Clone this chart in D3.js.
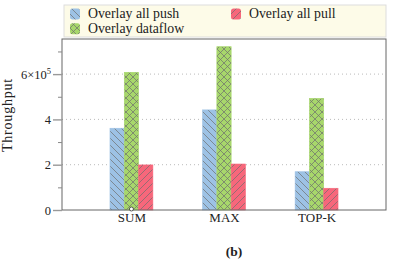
<!DOCTYPE html>
<html><head><meta charset="utf-8">
<script src="https://cdn.jsdelivr.net/npm/d3@7"></script>
<style>body{margin:0;background:#fff}svg{display:block}</style>
</head><body>
<script>
const categories = ["SUM", "MAX", "TOP-K"];
const seriesNames = ["Overlay all push", "Overlay dataflow", "Overlay all pull"];
const pushVals = [361000, 442000, 169000];
const dataflowVals = [608000, 721000, 493000];
const pullVals = [199000, 203000, 96000];
const majorTicks = [0, 200000, 400000, 600000];
const minorTicks = [100000, 300000, 500000, 700000];
const tickLabels = ["0", "2", "4", "6×10"];

const W = 402, H = 267;
const M = {left: 62, right: 386, top: 39, bottom: 210};
const FONT = '"Liberation Serif", "Times New Roman", serif';
const svg = d3.select("body").append("svg").attr("width", W).attr("height", H);
const defs = svg.append("defs");

const colors = ["#9dc2e5", "#a7d76b", "#f7677b"];
const kinds = ["nw", "cross", "ne"];
function makePattern(id, color, kind) {
  const s = 7;
  const p = defs.append("pattern").attr("id", id).attr("patternUnits", "userSpaceOnUse")
    .attr("width", s).attr("height", s);
  p.append("rect").attr("width", s).attr("height", s).attr("fill", color);
  const nw = `M0,0L${s},${s}M-1,${s-1}L1,${s+1}M${s-1},-1L${s+1},1`;
  const ne = `M0,${s}L${s},0M-1,1L1,-1M${s-1},${s+1}L${s+1},${s-1}`;
  const d = kind === "nw" ? nw : kind === "ne" ? ne : nw + ne;
  p.append("path").attr("d", d).attr("stroke", "#6f6f6f").attr("stroke-width", 0.7).attr("fill", "none");
}
colors.forEach((c, i) => makePattern("pat" + i, c, kinds[i]));

const x = d3.scalePoint().domain(categories).range([M.left, M.right]).padding(0.75);
const y = d3.scaleLinear().domain([0, 755000]).range([M.bottom, M.top]);
const bw = 14.3;

// grid
svg.append("g").selectAll("line").data(majorTicks.slice(1)).join("line")
  .attr("x1", M.left).attr("x2", M.right).attr("y1", d => y(d)).attr("y2", d => y(d))
  .attr("stroke", "#aaa").attr("stroke-width", 0.8).attr("stroke-dasharray", "1,3");

const series = [pushVals, dataflowVals, pullVals];
series.forEach((vals, si) => {
  svg.append("g").selectAll("rect").data(vals).join("rect")
    .attr("x", (d, i) => x(categories[i]) + (si - 1.5) * bw)
    .attr("y", d => y(d)).attr("width", bw).attr("height", d => y(0) - y(d))
    .attr("fill", `url(#pat${si})`).attr("stroke", colors[si]).attr("stroke-width", 0.6);
});

// frame
svg.append("rect").attr("x", M.left).attr("y", M.top).attr("width", M.right - M.left)
  .attr("height", M.bottom - M.top).attr("fill", "none").attr("stroke", "#666").attr("stroke-width", 1);

// y axis ticks
const yAxis = d3.axisLeft(y).tickValues(majorTicks).tickSize(9).tickFormat((d, i) => tickLabels[i]);
const ga = svg.append("g").attr("transform", `translate(${M.left},0)`).call(yAxis);
ga.select(".domain").remove();
ga.selectAll(".tick line").attr("stroke", "#999").attr("stroke-width", 1.4);
ga.selectAll(".tick text").attr("font-size", 12.5).attr("x", -11);
ga.selectAll(".tick text").filter((d, i) => i === 3).append("tspan").attr("dy", -5).attr("font-size", 8.5).text("5");
const gm = svg.append("g").attr("transform", `translate(${M.left},0)`)
  .call(d3.axisLeft(y).tickValues(minorTicks).tickSize(4).tickFormat(""));
gm.select(".domain").remove();
gm.selectAll(".tick line").attr("stroke", "#888").attr("stroke-width", 1);

// x axis labels
const gx = svg.append("g").attr("transform", `translate(0,${M.bottom})`)
  .call(d3.axisBottom(x).tickSize(0).tickPadding(3));
gx.select(".domain").remove();
gx.selectAll(".tick text").attr("font-size", 13);

svg.append("circle").attr("cx", x("SUM")).attr("cy", M.bottom - 1).attr("r", 2)
  .attr("fill", "#fff").attr("stroke", "#333").attr("stroke-width", 0.8);

svg.append("text").attr("transform", `translate(11.5,115) rotate(-90)`)
  .attr("text-anchor", "middle").attr("font-size", 14).attr("letter-spacing", 0.8).text("Throughput");

svg.append("text").attr("x", 234).attr("y", 256).attr("text-anchor", "middle")
  .attr("font-size", 13.5).attr("font-weight", "bold").text("(b)");

// legend
const lg = svg.append("g");
lg.append("rect").attr("x", 64).attr("y", 5).attr("width", 322).attr("height", 32)
  .attr("fill", "#fdfbe8").attr("stroke", "#ddd").attr("stroke-width", 1);
const legPos = [[70, 14], [70, 28.7], [231, 14]];
seriesNames.forEach((n, i) => {
  const [lx, ly] = legPos[i];
  lg.append("rect").attr("x", lx).attr("y", ly - 5.5).attr("width", 10).attr("height", 11).attr("rx", 2.5)
    .attr("fill", `url(#pat${i})`);
  lg.append("text").attr("x", lx + 18).attr("y", ly + 4).attr("font-size", 13.8).text(n);
});

svg.selectAll("text").style("font-family", FONT).style("fill", "#222");
</script>
</body></html>
